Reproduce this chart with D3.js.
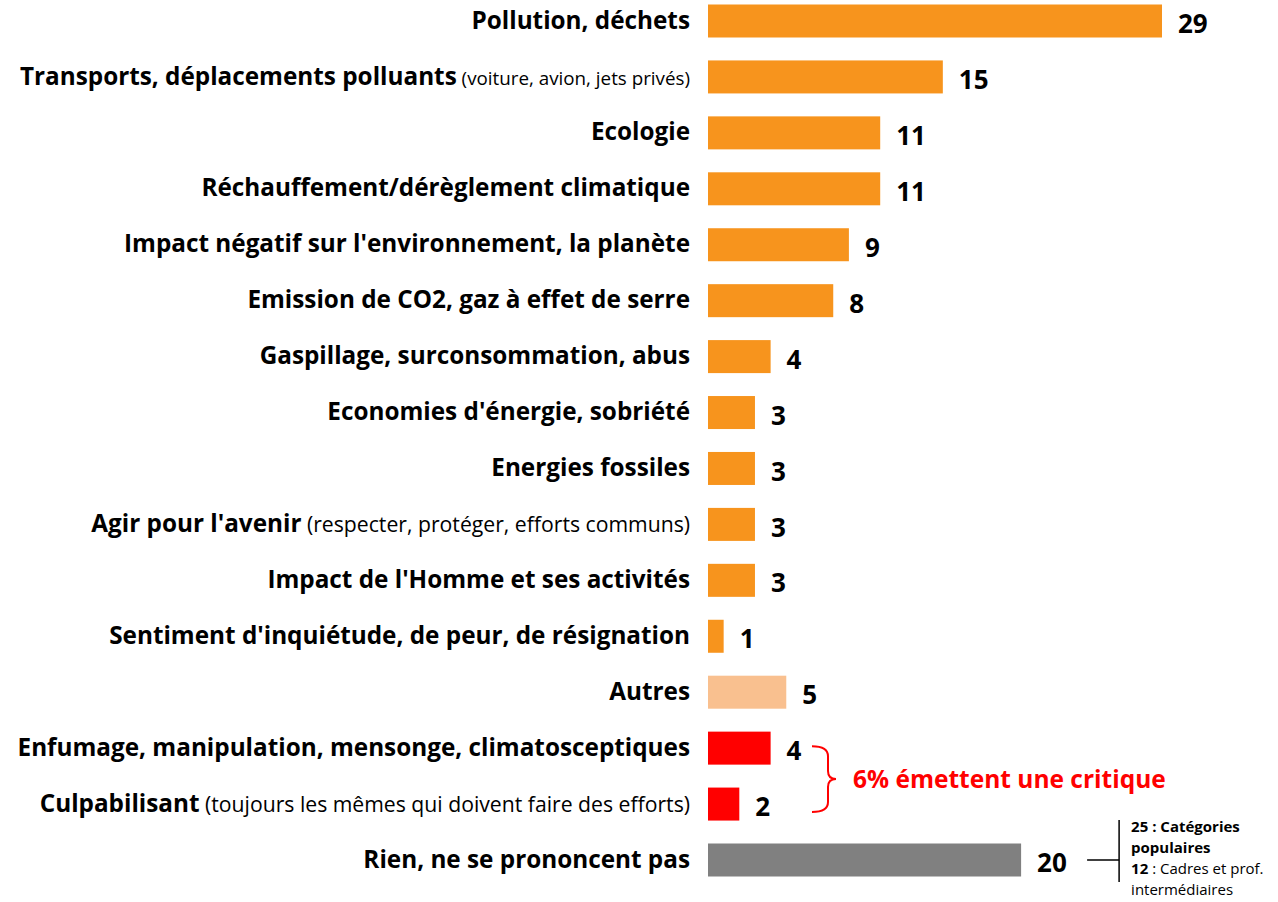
<!DOCTYPE html>
<html>
<head>
<meta charset="utf-8">
<script src="https://cdn.jsdelivr.net/npm/d3@7"></script>
<style>
  body { margin: 0; background: #fff; }
  svg text { font-family: "Open Sans", sans-serif; }
</style>
</head>
<body>
<svg id="chart" width="1278" height="902"></svg>
<script>
// data
const labels = [
  "Pollution, déchets",
  "Transports, déplacements polluants",
  "Ecologie",
  "Réchauffement/dérèglement climatique",
  "Impact négatif sur l'environnement, la planète",
  "Emission de CO2, gaz à effet de serre",
  "Gaspillage, surconsommation, abus",
  "Economies d'énergie, sobriété",
  "Energies fossiles",
  "Agir pour l'avenir",
  "Impact de l'Homme et ses activités",
  "Sentiment d'inquiétude, de peur, de résignation",
  "Autres",
  "Enfumage, manipulation, mensonge, climatosceptiques",
  "Culpabilisant",
  "Rien, ne se prononcent pas"
]
const notes = [
  "", "(voiture, avion, jets privés)", "", "", "", "", "", "", "",
  "(respecter, protéger, efforts communs)", "", "", "", "",
  "(toujours les mêmes qui doivent faire des efforts)", ""
]
const values = [29, 15, 11, 11, 9, 8, 4, 3, 3, 3, 3, 1, 5, 4, 2, 20]
const groups = ["main", "main", "main", "main", "main", "main", "main", "main", "main",
                "main", "main", "main", "other", "critic", "critic", "none"]
const groupColor = {main: "#F7941D", other: "#F9C08F", critic: "#FF0000", none: "#808080"}

const critiqueText = "6% émettent une critique"
const noneNotes = [
  [["25 : Catégories", true]],
  [["populaires", true]],
  [["12", true], [" : Cadres et prof.", false]],
  [["intermédiaires", false]]
]

const svg = d3.select("#chart")

const x = d3.scaleLinear().domain([0, 29]).range([708, 1162])
const y = d3.scalePoint().domain(d3.range(labels.length)).range([21, 860])
const barH = 33
// first note is set smaller than the others
const noteSize = i => i == 1 ? "18.8px" : "21.2px"

// bars
svg.append("g").selectAll("rect")
  .data(values)
  .enter().append("rect")
  .attr("x", x(0))
  .attr("y", (d, i) => y(i) - barH / 2)
  .attr("width", d => x(d) - x(0))
  .attr("height", barH)
  .attr("fill", (d, i) => groupColor[groups[i]])

// category labels
let lab = svg.append("g").selectAll("text")
  .data(labels)
  .enter().append("text")
  .attr("x", 690)
  .attr("y", (d, i) => y(i) + 2)
  .attr("dy", "0.35em")
  .attr("text-anchor", "end")
  .attr("fill", "#000")
lab.append("tspan")
  .style("font-size", "24.3px")
  .style("font-weight", "bold")
  .text(d => d)
lab.append("tspan")
  .style("font-size", (d, i) => noteSize(i))
  .text((d, i) => notes[i] ? " " + notes[i] : "")

// value labels
svg.append("g").selectAll("text")
  .data(values)
  .enter().append("text")
  .attr("x", d => x(d) + 16)
  .attr("y", (d, i) => y(i) + 3)
  .attr("dy", "0.35em")
  .style("font-size", "26px")
  .style("font-weight", "bold")
  .attr("fill", "#000")
  .text(d => d)

// critique bracket
const c1 = y(13) - 2, c2 = y(14) + 8, cm = (c1 + c2) / 2
const bx = 812
svg.append("path")
  .attr("d", "M" + bx + "," + c1 + " Q" + (bx + 16) + "," + c1 + " " + (bx + 16) + "," + (c1 + 10)
    + " L" + (bx + 16) + "," + (cm - 8) + " Q" + (bx + 16) + "," + cm + " " + (bx + 24) + "," + cm
    + " Q" + (bx + 16) + "," + cm + " " + (bx + 16) + "," + (cm + 8)
    + " L" + (bx + 16) + "," + (c2 - 10) + " Q" + (bx + 16) + "," + c2 + " " + bx + "," + c2)
  .attr("fill", "none")
  .attr("stroke", "#FF0000")
  .attr("stroke-width", 2)
svg.append("text")
  .attr("x", bx + 41)
  .attr("y", cm)
  .attr("dy", "0.35em")
  .style("font-size", "24.5px")
  .style("font-weight", "bold")
  .attr("fill", "#FF0000")
  .text(critiqueText)

// note for "Rien"
const ry = y(15)
const lx = x(values[15]) + 66
svg.append("line")
  .attr("x1", lx).attr("x2", lx + 32).attr("y1", ry).attr("y2", ry)
  .attr("stroke", "#000").attr("stroke-width", 1.5)
svg.append("line")
  .attr("x1", lx + 32).attr("x2", lx + 32).attr("y1", ry - 40).attr("y2", ry + 22)
  .attr("stroke", "#000").attr("stroke-width", 1.5)
let nt = svg.append("g").selectAll("text")
  .data(noneNotes)
  .enter().append("text")
  .attr("x", lx + 44)
  .attr("y", (d, i) => ry - 33 + i * 21)
  .attr("dy", "0.35em")
  .style("font-size", "15px")
  .attr("fill", "#000")
nt.selectAll("tspan")
  .data(d => d)
  .enter().append("tspan")
  .style("font-weight", d => d[1] ? "bold" : "normal")
  .text(d => d[0])
</script>
</body>
</html>
